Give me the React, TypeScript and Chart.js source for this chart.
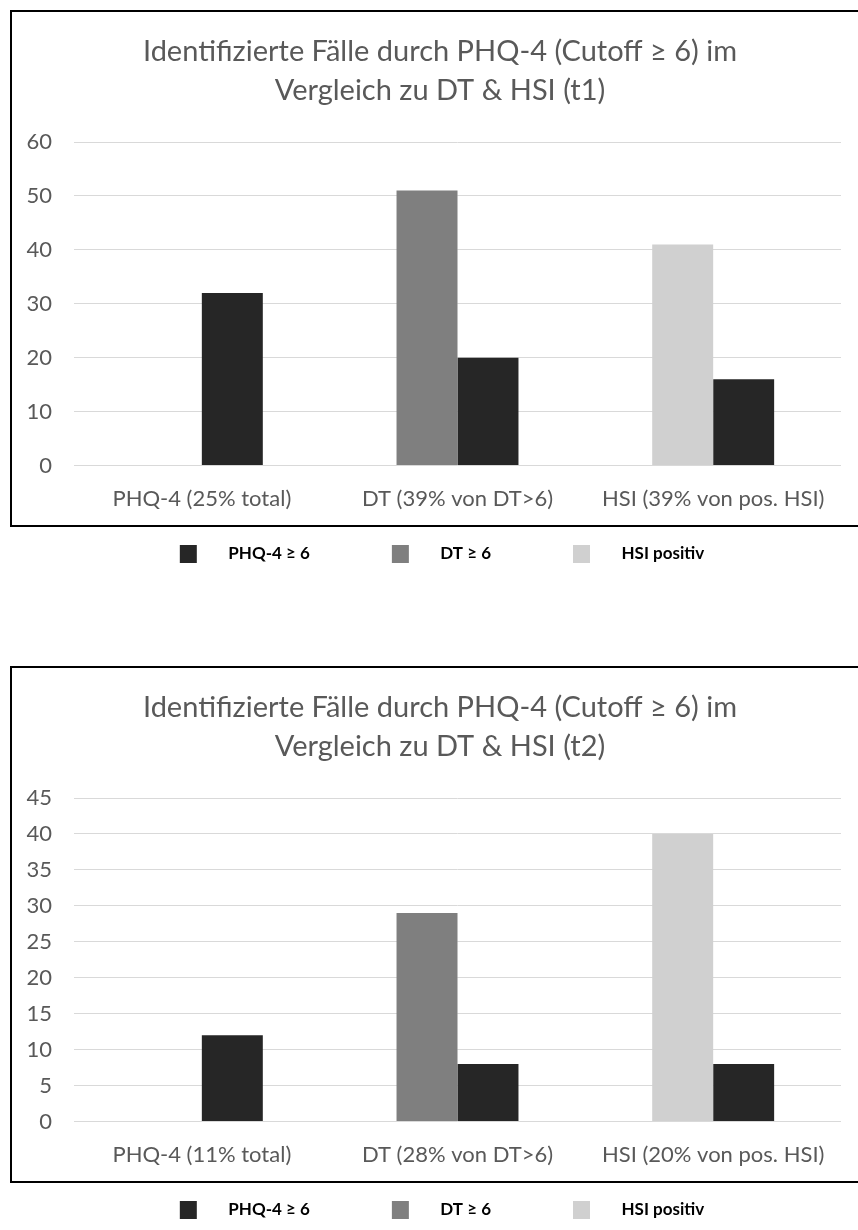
import React, { useEffect, useRef } from 'react';
import { Chart, registerables } from 'chart.js';

Chart.register(...registerables);

// ---- data ----
const titleT1 = ['Identifizierte Fälle durch PHQ-4 (Cutoff ≥ 6) im', 'Vergleich zu DT & HSI (t1)'];
const categoriesT1 = ['PHQ-4 (25% total)', 'DT (39% von DT>6)', 'HSI (39% von pos. HSI)'];
const phqCasesT1 = [32, 20, 16];
const comparisonCasesT1 = [null, 51, 41];
const yMaxT1 = 60;
const yStepT1 = 10;

const titleT2 = ['Identifizierte Fälle durch PHQ-4 (Cutoff ≥ 6) im', 'Vergleich zu DT & HSI (t2)'];
const categoriesT2 = ['PHQ-4 (11% total)', 'DT (28% von DT>6)', 'HSI (20% von pos. HSI)'];
const phqCasesT2 = [12, 8, 8];
const comparisonCasesT2 = [null, 29, 40];
const yMaxT2 = 45;
const yStepT2 = 5;

const legendLabels = ['PHQ-4 ≥ 6', 'DT ≥ 6', 'HSI positiv'];

// ---- styling ----
const FONT = "Lato, 'Open Sans', sans-serif";
const TEXT = '#595959';
const BLACK = '#262626';
const DARK_GREY = '#7f7f7f';
const LIGHT_GREY = '#d0d0d0';
const legendColors = [BLACK, DARK_GREY, LIGHT_GREY];
const comparisonColors = [DARK_GREY, DARK_GREY, LIGHT_GREY];

const CANVAS_W = 860;
const CANVAS_H = 627;
const SWATCH_W = 44;
const LEGEND_FONT = 17;
const LEGEND_GAP = 78;
const LEGEND_ROW_Y = 544; // centre line of the legend row, canvas coordinates

// legend marker: a small square with room after it before the label
function swatch(color: string): HTMLCanvasElement {
  const c = document.createElement('canvas');
  c.width = SWATCH_W;
  c.height = 18;
  const g = c.getContext('2d');
  if (g) {
    g.fillStyle = color;
    g.fillRect(4, 0, 17, 18);
  }
  return c;
}

// pull the legend row up to sit just under the framed plot
const legendPlacement = {
  id: 'legendPlacement',
  afterLayout(chart: any) {
    const lg = chart.legend;
    if (!lg) return;
    const wantedTop = LEGEND_ROW_Y - LEGEND_GAP - LEGEND_FONT / 2;
    const d = wantedTop - lg.top;
    lg.top += d;
    lg.bottom += d;
  },
};

type Props = {
  top: number;
  title: string[];
  categories: string[];
  phq: number[];
  comparison: (number | null)[];
  yMax: number;
  yStep: number;
};

function CaseChart({ top, title, categories, phq, comparison, yMax, yStep }: Props) {
  const ref = useRef<HTMLCanvasElement | null>(null);

  useEffect(() => {
    if (!ref.current) return;
    const chart = new Chart(ref.current, {
      type: 'bar',
      data: {
        labels: categories,
        datasets: [
          {
            label: 'Vergleich',
            data: comparison,
            backgroundColor: comparisonColors,
            borderWidth: 0,
            categoryPercentage: 0.477,
            barPercentage: 1,
          },
          {
            label: legendLabels[0],
            data: phq,
            backgroundColor: BLACK,
            borderWidth: 0,
            categoryPercentage: 0.477,
            barPercentage: 1,
          },
        ],
      },
      plugins: [legendPlacement],
      options: {
        responsive: false,
        devicePixelRatio: 1,
        animation: false,
        events: [],
        layout: { padding: 0 },
        plugins: {
          tooltip: { enabled: false },
          title: {
            display: true,
            text: title,
            color: TEXT,
            font: { family: FONT, size: 29, weight: 'normal', lineHeight: 1.345 },
            padding: { top: 22.5, bottom: 31.5 },
          },
          legend: {
            display: true,
            position: 'bottom',
            labels: {
              usePointStyle: true,
              pointStyleWidth: SWATCH_W,
              padding: LEGEND_GAP,
              color: '#333333',
              font: { family: FONT, size: LEGEND_FONT, weight: 'bold' },
              generateLabels: () =>
                legendLabels.map((text, i) => ({
                  text,
                  pointStyle: swatch(legendColors[i]),
                  fillStyle: legendColors[i],
                  strokeStyle: legendColors[i],
                  lineWidth: 0,
                  hidden: false,
                  datasetIndex: i === 0 ? 1 : 0,
                })),
            },
          },
        },
        scales: {
          x: {
            grid: { display: false, drawTicks: false },
            border: { display: false },
            ticks: {
              color: TEXT,
              font: { family: FONT, size: 22 },
              padding: 20,
              maxRotation: 0,
              autoSkip: false,
            },
          },
          y: {
            min: 0,
            max: yMax,
            grid: { color: '#d9d9d9', lineWidth: 1, drawTicks: false },
            border: { display: false },
            ticks: {
              stepSize: yStep,
              color: TEXT,
              font: { family: FONT, size: 22 },
              padding: 22,
            },
            afterFit: (s: any) => {
              s.width = 64;
            },
          },
          yRight: {
            position: 'right',
            grid: { display: false, drawTicks: false },
            border: { display: false },
            ticks: { display: false },
            afterFit: (s: any) => {
              s.width = 29;
            },
          },
        },
      },
    } as any);
    return () => chart.destroy();
  }, [title, categories, phq, comparison, yMax, yStep]);

  return (
    <>
      <canvas
        ref={ref}
        width={CANVAS_W}
        height={CANVAS_H}
        style={{ position: 'absolute', left: 10, top, width: CANVAS_W, height: CANVAS_H }}
      />
      <div
        style={{
          position: 'absolute',
          left: 10,
          top,
          width: 880,
          height: 517,
          boxSizing: 'border-box',
          border: '2px solid #000',
          pointerEvents: 'none',
        }}
      />
    </>
  );
}

export default function App() {
  return (
    <div
      style={{
        position: 'absolute',
        left: 0,
        top: 0,
        width: 858,
        height: 1230,
        overflow: 'hidden',
        background: '#fff',
      }}
    >
      <CaseChart
        top={10}
        title={titleT1}
        categories={categoriesT1}
        phq={phqCasesT1}
        comparison={comparisonCasesT1}
        yMax={yMaxT1}
        yStep={yStepT1}
      />
      <CaseChart
        top={666}
        title={titleT2}
        categories={categoriesT2}
        phq={phqCasesT2}
        comparison={comparisonCasesT2}
        yMax={yMaxT2}
        yStep={yStepT2}
      />
    </div>
  );
}
